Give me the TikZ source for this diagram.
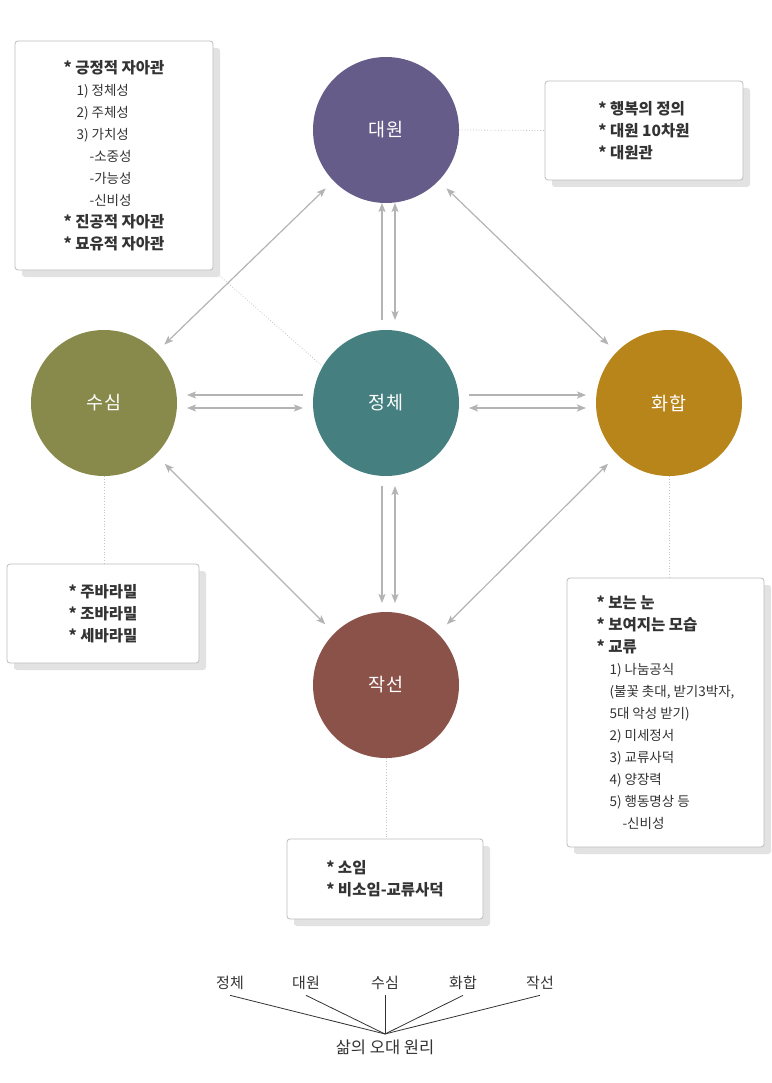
\documentclass[tikz,border=0pt]{standalone}
\usepackage{fontspec}
\setmainfont{Noto Sans CJK KR}
\usetikzlibrary{arrows.meta,positioning,shadows,backgrounds}
\definecolor{arrgray}{HTML}{B4B4B4}
\definecolor{dotgray}{HTML}{C4C4C4}
\definecolor{edgegray}{HTML}{BDBDBD}
\definecolor{shadegray}{HTML}{E2E2E2}
\definecolor{ink}{HTML}{333333}
\definecolor{daewon}{HTML}{655C89}
\definecolor{jeongche}{HTML}{457F7F}
\definecolor{susim}{HTML}{878A4B}
\definecolor{hwahap}{HTML}{B8851A}
\definecolor{jakseon}{HTML}{8B524A}
\newcommand{\headln}[1]{{\bfseries\fontsize{15.5}{22}\selectfont #1}}
\newcommand{\ind}{\hspace*{13pt}}

\begin{document}
\begin{tikzpicture}[x=1pt,y=-1pt, every node/.style={font=\fontsize{13.5}{22}\selectfont,text=ink},
  c/.style={circle,minimum size=146pt,inner sep=0pt,outer sep=0pt,text=white,font=\fontsize{18.5}{19}\selectfont},
  box/.style={draw=edgegray,line width=0.8pt,rounded corners=3pt,fill=white,align=left,
    drop shadow={shadow xshift=7pt,shadow yshift=-7pt,fill=shadegray,opacity=1}},
  arr1/.style={-{Stealth[length=9pt,width=7pt,inset=2pt]},draw=arrgray,line width=1.2pt},
  arr2/.style={{Stealth[length=9pt,width=7pt,inset=2pt]}-{Stealth[length=9pt,width=7pt,inset=2pt]},draw=arrgray,line width=1.2pt},
  dots/.style={draw=dotgray,dotted,line width=0.8pt},
  lbl/.style={font=\fontsize{15}{15}\selectfont,text=ink},
  tline/.style={draw=ink,line width=0.8pt}]
  \useasboundingbox (0,0) rectangle (771,1083);
  % circles
  \node[c,fill=daewon] (dw) at (386,130) {대원};
  \node[c,fill=jeongche] (je) at (386,403) {정체};
  \node[c,fill=susim] (ss) at (104,403) {수심};
  \node[c,fill=hwahap] (hh) at (669,403) {화합};
  \node[c,fill=jakseon] (js) at (386,685) {작선};
  % boxes
  \node[box,minimum width=198pt,minimum height=229pt] (tl) at (114,155.5) {\headln{* 긍정적 자아관}\\
    \ind 1) 정체성\\ \ind 2) 주체성\\ \ind 3) 가치성\\ \ind\ind -소중성\\ \ind\ind -가능성\\ \ind\ind -신비성\\
    \headln{* 진공적 자아관}\\ \headln{* 묘유적 자아관}};
  \node[box,minimum width=198pt,minimum height=99pt] (tr) at (644,130.5) {\headln{* 행복의 정의}\\ \headln{* 대원 10차원}\\ \headln{* 대원관}};
  \node[box,minimum width=192pt,minimum height=99pt] (bl) at (103,613.5) {\headln{* 주바라밀}\\ \headln{* 조바라밀}\\ \headln{* 세바라밀}};
  \node[box,minimum width=197pt,minimum height=269pt] (rb) at (665.5,712.5) {\headln{* 보는 눈}\\ \headln{* 보여지는 모습}\\ \headln{* 교류}\\
    \ind 1) 나눔공식\\ \ind (불꽃 촛대, 받기3박자,\\ \ind 5대 악성 받기)\\ \ind 2) 미세정서\\ \ind 3) 교류사덕\\ \ind 4) 양장력\\
    \ind 5) 행동명상 등\\ \ind\ind -신비성};
  \node[box,minimum width=196pt,minimum height=80pt] (bt) at (385,879) {\headln{* 소임}\\ \headln{* 비소임-교류사덕}};
  % arrows
  \draw[arr1] ([xshift=-4pt,yshift=10pt]je.north) -- ([xshift=-4pt]dw.south);
  \draw[arr2] ([xshift=9pt,yshift=10pt]je.north) -- ([xshift=9pt]dw.south);
  \draw[arr1] ([xshift=-10pt,yshift=8pt]je.west) -- ([xshift=10pt,yshift=8pt]ss.east);
  \draw[arr2] ([xshift=-10pt,yshift=-5pt]je.west) -- ([xshift=10pt,yshift=-5pt]ss.east);
  \draw[arr1] ([xshift=10pt,yshift=8pt]je.east) -- ([xshift=-10pt,yshift=8pt]hh.west);
  \draw[arr2] ([xshift=10pt,yshift=-5pt]je.east) -- ([xshift=-10pt,yshift=-5pt]hh.west);
  \draw[arr1] ([xshift=-4pt,yshift=-10pt]je.south) -- ([xshift=-4pt,yshift=9pt]js.north);
  \draw[arr2] ([xshift=9pt,yshift=-10pt]je.south) -- ([xshift=9pt,yshift=9pt]js.north);
  \draw[arr2,shorten <=11pt,shorten >=11pt] (dw) -- (ss);
  \draw[arr2,shorten <=11pt,shorten >=11pt] (dw) -- (hh);
  \draw[arr2,shorten <=13pt,shorten >=13pt] (ss) -- (js);
  \draw[arr2,shorten <=13pt,shorten >=13pt] (hh) -- (js);
  % summary tree
  \coordinate (root) at (385,1034);
  \node[lbl] (b1) at (230,983) {정체};
  \node[lbl] (b2) at (306,983) {대원};
  \node[lbl] (b3) at (385,983) {수심};
  \node[lbl] (b4) at (463,983) {화합};
  \node[lbl] (b5) at (540,983) {작선};
  \node[lbl,font=\fontsize{16.5}{17}\selectfont,below=2pt of root] (owon) {삶의 오대 원리};
  \foreach \n in {b1,b2,b3,b4,b5} \draw[tline] ([yshift=-2pt]\n.south) -- (root);
  \begin{scope}[on background layer]
    \fill[white] (0,0) rectangle (771,1083);
    \draw[dots] (dw.east) -- (tr.west);
    \draw[dots] (tl.south east) -- (je.150);
    \draw[dots] (ss.south) -- (ss.south |- bl.north);
    \draw[dots] (hh.south) -- (hh.south |- rb.north);
    \draw[dots] (js.south) -- (js.south |- bt.north);
  \end{scope}
\end{tikzpicture}
\end{document}
